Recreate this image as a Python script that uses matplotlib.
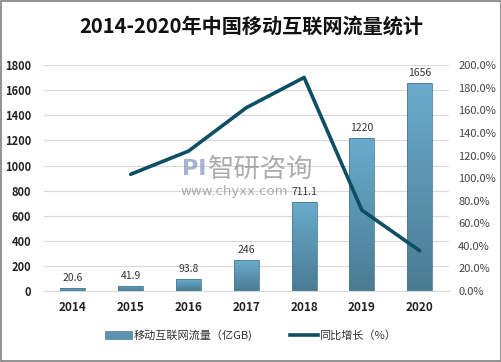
import numpy as np
import matplotlib
matplotlib.use("Agg")
import matplotlib.pyplot as plt
from matplotlib.colors import LinearSegmentedColormap
from matplotlib.patches import Rectangle

plt.rcParams['font.family'] = ['Noto Sans CJK SC', 'DejaVu Sans']

years = ["2014", "2015", "2016", "2017", "2018", "2019", "2020"]
traffic = [20.6, 41.9, 93.8, 246, 711.1, 1220, 1656]
traffic_labels = ["20.6", "41.9", "93.8", "246", "711.1", "1220", "1656"]
growth = [None, 103.4, 123.9, 162.3, 189.1, 71.6, 35.7]

fig = plt.figure(figsize=(5.02, 3.62), dpi=100)
ax = fig.add_axes([0.0876, 0.196, 0.806, 0.624])
ax2 = ax.twinx()

x = np.arange(len(years))
w = 0.43
bar_cmap = LinearSegmentedColormap.from_list("b", ["#4a7b93", "#6aaccd"])
grad = np.linspace(0, 1, 256).reshape(-1, 1)
for xi, v in zip(x, traffic):
    rect = Rectangle((xi - w / 2, 0), w, v, facecolor="none",
                     edgecolor="#4d7e96", linewidth=0.6, zorder=3)
    ax.add_patch(rect)
    im = ax.imshow(grad, cmap=bar_cmap, origin="lower", aspect="auto",
                   extent=[xi - w / 2, xi + w / 2, 0, v], zorder=2)
    im.set_clip_path(rect)

for xi, v, lab in zip(x, traffic, traffic_labels):
    ax.text(xi, v + 40, lab, ha="center", va="bottom", fontsize=7.5,
            color="#333333", zorder=6)

ax.set_xlim(-0.5, len(years) - 0.5)
ax.set_ylim(0, 1800)
ax.set_yticks(range(0, 1801, 200))
ax.set_xticks(x)
ax.set_xticklabels(years, fontsize=8.5, fontweight="bold", color="#222222")
for t in ax.get_yticklabels():
    t.set_fontsize(8)
    t.set_fontweight("bold")
    t.set_color("#222222")
ax.grid(axis="y", color="#d9d9d9", linewidth=0.8, zorder=0)
ax.set_axisbelow(True)
for s in ax.spines.values():
    s.set_visible(False)
for s in ax2.spines.values():
    s.set_visible(False)
ax.spines["bottom"].set_visible(True)
ax.spines["bottom"].set_color("#d9d9d9")
ax.tick_params(axis="y", length=0, pad=9)
ax.tick_params(axis="x", length=0, pad=7)

gx = [xi for xi, g in zip(x, growth) if g is not None]
gy = [g for g in growth if g is not None]
ax2.plot(gx, gy, color="#0e4f66", linewidth=2.6, solid_capstyle="round",
         solid_joinstyle="round", zorder=5)
ax2.set_ylim(0, 200)
ax2.set_yticks(range(0, 201, 20))
ax2.set_yticklabels([f"{v:.1f}%" for v in range(0, 201, 20)], fontsize=8,
                    color="#444444")
ax2.tick_params(axis="y", length=0, pad=7)

# watermark
fig.text(0.414, 0.533, "智研咨询", fontsize=19, color="#8a8a8a", alpha=0.7,
         ha="left", va="center")
fig.text(0.36, 0.47, "www.chyxx.com", fontsize=9.5, color="#8a8a8a", alpha=0.7,
         ha="left", va="center", family="DejaVu Sans")
fig.text(0.362, 0.533, "PI", fontsize=16, color="#7f95c0", alpha=0.7,
         fontweight="bold", ha="left", va="center", family="DejaVu Sans")

fig.text(0.5, 0.928, "2014-2020年中国移动互联网流量统计", ha="center",
         va="center", fontsize=14.5, fontweight="bold", color="#111111")

# legend
lx = 0.209
fig.patches.append(Rectangle((lx, 0.063), 0.054, 0.022, transform=fig.transFigure,
                             facecolor="#5b93b0", edgecolor="#4d7e96",
                             linewidth=0.5))
fig.text(lx + 0.057, 0.074, "移动互联网流量（亿GB)", fontsize=8, color="#333333",
         ha="left", va="center")
fig.lines.append(plt.Line2D([0.578, 0.633], [0.074, 0.074], transform=fig.transFigure,
                            color="#0e4f66", linewidth=2.6))
fig.text(0.635, 0.074, "同比增长（%）", fontsize=8, color="#333333",
         ha="left", va="center")

fig.patches.append(Rectangle((0.002, 0.002), 0.996, 0.996, transform=fig.transFigure,
                             facecolor="none", edgecolor="#808080", linewidth=1.2))

fig.savefig("out.png", dpi=100)
